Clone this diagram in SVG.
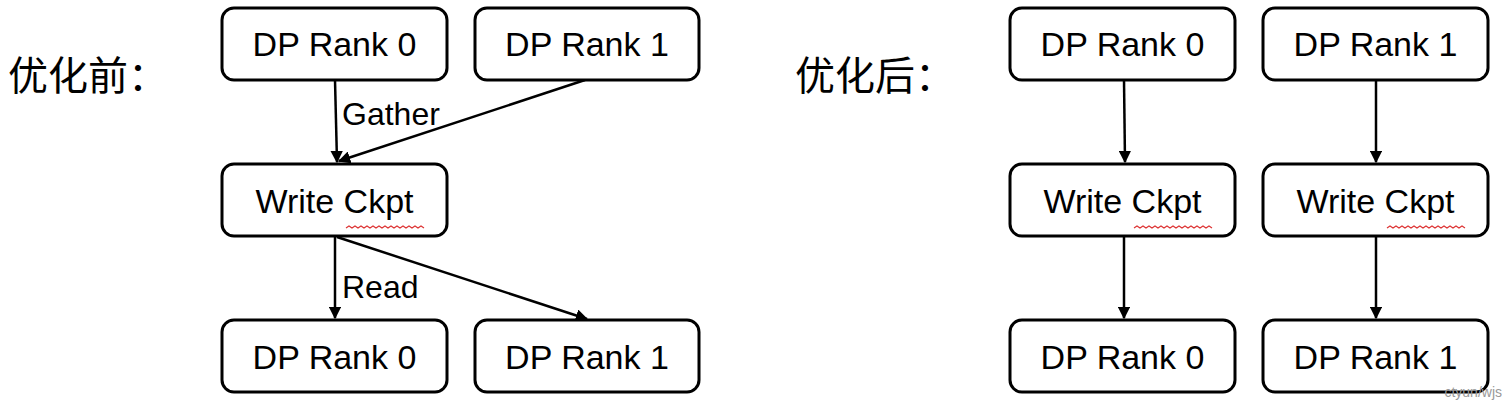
<svg xmlns="http://www.w3.org/2000/svg" width="1504" height="404" viewBox="0 0 1504 404">
<style>
.b{fill:#fff;stroke:#000;stroke-width:3}
.t{font-family:"Liberation Sans",Arial,sans-serif;font-size:34px;text-anchor:middle;fill:#000}
.l{font-family:"Liberation Sans",Arial,sans-serif;font-size:32px;fill:#000}
.h{font-family:"Noto Sans CJK SC",sans-serif;font-size:40px;fill:#000}
.c{stroke:#000;stroke-width:2.5;fill:none;marker-end:url(#a)}
.w{stroke:#d33;stroke-width:1.2;fill:none}
</style>
<defs><marker id="a" viewBox="0 0 10 10" refX="9" refY="5" markerWidth="5" markerHeight="5" orient="auto" markerUnits="strokeWidth"><path d="M0,0L10,5L0,10z" fill="#000"/></marker></defs>
<rect width="1504" height="404" fill="#fff"/>
<text class="h" x="8" y="90">优化前：</text>
<text class="h" x="795" y="90">优化后：</text>
<g id="connectors">
<line class="c" x1="335" y1="80" x2="337" y2="162"/>
<line class="c" x1="585" y1="80" x2="339" y2="161"/>
<line class="c" x1="335" y1="236" x2="335" y2="318"/>
<line class="c" x1="337" y1="237" x2="587" y2="319"/>
<line class="c" x1="1124" y1="80" x2="1125" y2="162"/>
<line class="c" x1="1376" y1="80" x2="1376" y2="162"/>
<line class="c" x1="1124" y1="236" x2="1124" y2="318"/>
<line class="c" x1="1376" y1="236" x2="1376" y2="318"/>
<text class="l" x="342" y="125">Gather</text>
<text class="l" x="342" y="298">Read</text>
</g>
<g id="n1"><rect class="b" x="222" y="8" width="225" height="72" rx="12"/><text class="t" x="334.5" y="56">DP Rank 0</text></g>
<g id="n2"><rect class="b" x="475" y="8" width="224" height="72" rx="12"/><text class="t" x="587" y="56">DP Rank 1</text></g>
<g id="n3"><rect class="b" x="222" y="164" width="225" height="72" rx="12"/><text class="t" x="334.5" y="213">Write Ckpt</text><path class="w" d="M346,228 l3,-2 l3,2 l3,-2 l3,2 l3,-2 l3,2 l3,-2 l3,2 l3,-2 l3,2 l3,-2 l3,2 l3,-2 l3,2 l3,-2 l3,2 l3,-2 l3,2 l3,-2 l3,2 l3,-2 l3,2 l3,-2 l3,2 l3,-2 l3,2"/></g>
<g id="n4"><rect class="b" x="222" y="320" width="225" height="72" rx="12"/><text class="t" x="334.5" y="369">DP Rank 0</text></g>
<g id="n5"><rect class="b" x="475" y="320" width="224" height="72" rx="12"/><text class="t" x="587" y="369">DP Rank 1</text></g>
<g id="m1"><rect class="b" x="1010" y="8" width="225" height="72" rx="12"/><text class="t" x="1122.5" y="56">DP Rank 0</text></g>
<g id="m2"><rect class="b" x="1263" y="8" width="225" height="72" rx="12"/><text class="t" x="1375.5" y="56">DP Rank 1</text></g>
<g id="m3"><rect class="b" x="1010" y="164" width="225" height="72" rx="12"/><text class="t" x="1122.5" y="213">Write Ckpt</text><path class="w" d="M1134,228 l3,-2 l3,2 l3,-2 l3,2 l3,-2 l3,2 l3,-2 l3,2 l3,-2 l3,2 l3,-2 l3,2 l3,-2 l3,2 l3,-2 l3,2 l3,-2 l3,2 l3,-2 l3,2 l3,-2 l3,2 l3,-2 l3,2 l3,-2 l3,2"/></g>
<g id="m4"><rect class="b" x="1263" y="164" width="225" height="72" rx="12"/><text class="t" x="1375.5" y="213">Write Ckpt</text><path class="w" d="M1387,228 l3,-2 l3,2 l3,-2 l3,2 l3,-2 l3,2 l3,-2 l3,2 l3,-2 l3,2 l3,-2 l3,2 l3,-2 l3,2 l3,-2 l3,2 l3,-2 l3,2 l3,-2 l3,2 l3,-2 l3,2 l3,-2 l3,2 l3,-2 l3,2"/></g>
<g id="m5"><rect class="b" x="1010" y="320" width="225" height="72" rx="12"/><text class="t" x="1122.5" y="369">DP Rank 0</text></g>
<g id="m6"><rect class="b" x="1263" y="320" width="225" height="72" rx="12"/><text class="t" x="1375.5" y="369">DP Rank 1</text></g>
<text x="1502" y="397" font-family="Liberation Sans,Arial,sans-serif" font-size="14" fill="#999" text-anchor="end">ctyun/wjs</text>
</svg>
